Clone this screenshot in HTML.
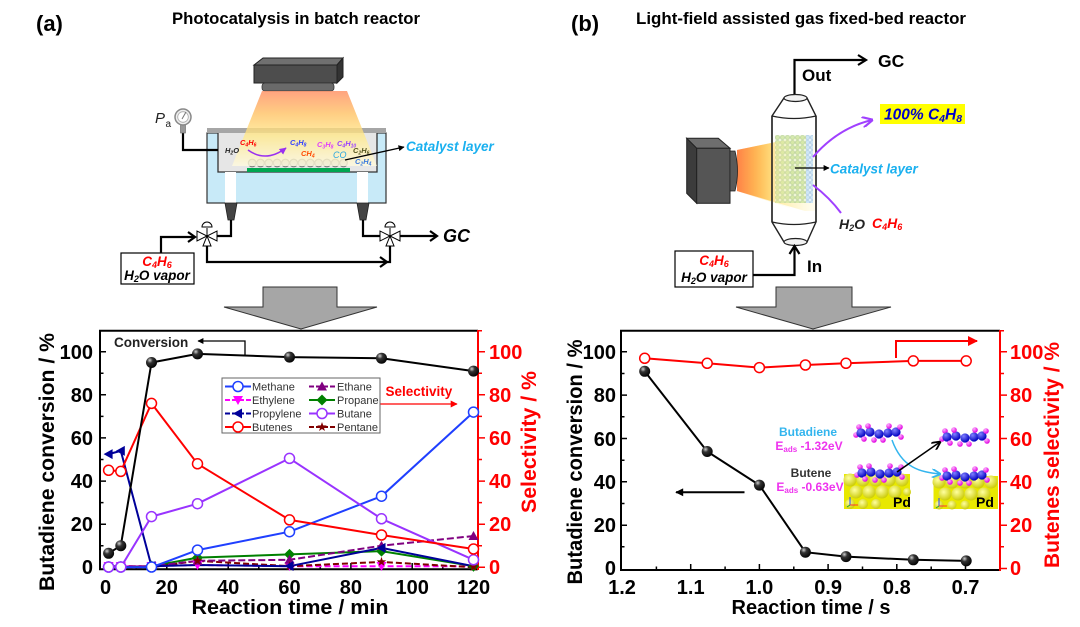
<!DOCTYPE html>
<html><head><meta charset="utf-8"><style>
html,body{margin:0;padding:0;background:#fff;}
svg{display:block;font-family:"Liberation Sans",Arial,sans-serif;}
</style></head><body>
<svg width="1080" height="627" viewBox="0 0 1080 627" xmlns="http://www.w3.org/2000/svg">
<defs>
 <radialGradient id="ball" cx="0.35" cy="0.3" r="0.75"><stop offset="0" stop-color="#d0d0d0"/><stop offset="0.35" stop-color="#333"/><stop offset="1" stop-color="#000"/></radialGradient>
 <radialGradient id="pdb" cx="0.4" cy="0.35" r="0.7"><stop offset="0" stop-color="#ffffa0"/><stop offset="1" stop-color="#c8c800"/></radialGradient>
 <radialGradient id="bb" cx="0.35" cy="0.3" r="0.7"><stop offset="0" stop-color="#8080ff"/><stop offset="1" stop-color="#0000c0"/></radialGradient>
 <radialGradient id="mb" cx="0.35" cy="0.3" r="0.7"><stop offset="0" stop-color="#ffb0ff"/><stop offset="1" stop-color="#e000e0"/></radialGradient>
 <linearGradient id="cone" x1="0" y1="0" x2="0" y2="1"><stop offset="0" stop-color="#ff8a5c"/><stop offset="0.3" stop-color="#ffc060"/><stop offset="0.6" stop-color="#ffe98a"/><stop offset="1" stop-color="#fffbe0"/></linearGradient>
 <linearGradient id="beam" x1="0" y1="0" x2="1" y2="0"><stop offset="0" stop-color="#ff7a3a"/><stop offset="0.3" stop-color="#ffb347"/><stop offset="0.6" stop-color="#ffe680"/><stop offset="1" stop-color="#fff6c0" stop-opacity="0.4"/></linearGradient>
 <pattern id="dots" width="5" height="5" patternUnits="userSpaceOnUse"><rect width="5" height="5" fill="#eef6d8"/><circle cx="2.5" cy="2.5" r="2" fill="#cfe6a0" stroke="#9fc080" stroke-width="0.6"/></pattern>
 <pattern id="dotsb" width="5" height="5" patternUnits="userSpaceOnUse"><rect width="5" height="5" fill="#e6f2fa"/><circle cx="2.5" cy="2.5" r="2" fill="#cfe6f6" stroke="#9cc0dc" stroke-width="0.6"/></pattern>
 <marker id="ahk" viewBox="0 0 10 10" refX="9" refY="5" markerWidth="9" markerHeight="8" markerUnits="userSpaceOnUse" orient="auto"><path d="M0,0 L10,5 L0,10 z" fill="#000"/></marker>
 <marker id="ahs" viewBox="0 0 10 10" refX="9" refY="5" markerWidth="7" markerHeight="6" markerUnits="userSpaceOnUse" orient="auto"><path d="M0,0 L10,5 L0,10 z" fill="#000"/></marker>
 <marker id="ahr" viewBox="0 0 10 10" refX="9" refY="5" markerWidth="14" markerHeight="10" markerUnits="userSpaceOnUse" orient="auto"><path d="M0,0 L10,5 L0,10 z" fill="#f00"/></marker>
 <marker id="ahr2" viewBox="0 0 10 10" refX="9" refY="5" markerWidth="10" markerHeight="7" markerUnits="userSpaceOnUse" orient="auto"><path d="M0,0 L10,5 L0,10 z" fill="#f00"/></marker>
 <marker id="ahp" viewBox="0 0 10 10" refX="9" refY="5" markerWidth="11" markerHeight="11" markerUnits="userSpaceOnUse" orient="auto"><path d="M0,0 L10,5 L0,10" fill="none" stroke="#a040ff" stroke-width="2"/></marker>
 <marker id="ahps" viewBox="0 0 10 10" refX="9" refY="5" markerWidth="7" markerHeight="7" markerUnits="userSpaceOnUse" orient="auto"><path d="M0,0 L10,5 L0,10 z" fill="#9a30f0"/></marker>
 <marker id="ahc" viewBox="0 0 10 10" refX="9" refY="5" markerWidth="9" markerHeight="9" markerUnits="userSpaceOnUse" orient="auto"><path d="M0,0 L10,5 L0,10" fill="none" stroke="#33b5ee" stroke-width="2"/></marker>
 <marker id="ahb" viewBox="0 0 10 10" refX="9" refY="5" markerWidth="9" markerHeight="9" markerUnits="userSpaceOnUse" orient="auto"><path d="M0,0 L10,5 L0,10" fill="none" stroke="#000" stroke-width="2"/></marker>
 <circle id="oc" r="5" fill="#fff"/>
 <circle id="bk" r="5.5" fill="url(#ball)"/>
 <path id="tu" d="M0,-5 L5,4 L-5,4 Z"/>
 <path id="td" d="M0,5 L5,-4 L-5,-4 Z"/>
 <path id="tl" d="M-5,0 L4,-5 L4,5 Z"/>
 <path id="dm" d="M0,-5.5 L5.5,0 L0,5.5 L-5.5,0 Z"/>
 <path id="st" d="M0,-5 L1.18,-1.62 L4.76,-1.55 L1.9,0.62 L2.94,4.05 L0,2 L-2.94,4.05 L-1.9,0.62 L-4.76,-1.55 L-1.18,-1.62 Z"/>
 <g id="valve" fill="#fff" stroke="#000" stroke-width="1">
  <path d="M-10,-5 L-10,5 L0,0 Z"/><path d="M10,-5 L10,5 L0,0 Z"/><path d="M-4,10 L4,10 L0,0 Z"/>
  <path d="M0,0 V-8" fill="none"/><path d="M-5,-9 A5,5 0 0 1 5,-9 Z"/>
 </g>
 <g id="mol">
  <circle cx="0" cy="2" r="2.8" fill="url(#mb)"/><circle cx="3" cy="-6" r="2.8" fill="url(#mb)"/>
  <circle cx="5" cy="0" r="4.6" fill="url(#bb)"/><circle cx="14" cy="-1" r="4.6" fill="url(#bb)"/>
  <circle cx="12" cy="-7" r="2.8" fill="url(#mb)"/>
  <circle cx="23" cy="1" r="4.6" fill="url(#bb)"/><circle cx="32" cy="0" r="4.6" fill="url(#bb)"/>
  <circle cx="40" cy="-1" r="4.6" fill="url(#bb)"/>
  <circle cx="18" cy="7" r="2.8" fill="url(#mb)"/><circle cx="27" cy="7" r="2.8" fill="url(#mb)"/>
  <circle cx="33" cy="-7" r="2.8" fill="url(#mb)"/><circle cx="44" cy="-6" r="2.8" fill="url(#mb)"/>
  <circle cx="45" cy="4" r="2.8" fill="url(#mb)"/><circle cx="8" cy="6" r="2.8" fill="url(#mb)"/>
 </g>
</defs>

<!-- ===== Titles ===== -->
<text x="36" y="31" font-size="22" font-weight="bold">(a)</text>
<text x="296" y="24" font-size="17" font-weight="bold" text-anchor="middle" textLength="248" lengthAdjust="spacingAndGlyphs">Photocatalysis in batch reactor</text>
<text x="571" y="31" font-size="22" font-weight="bold">(b)</text>
<text x="801" y="24" font-size="17" font-weight="bold" text-anchor="middle" textLength="330" lengthAdjust="spacingAndGlyphs">Light-field assisted gas fixed-bed reactor</text>

<!-- ===== Batch reactor ===== -->
<polygon points="254,65 263,58 343,58 337,65" fill="#707070" stroke="#222" stroke-width="1"/>
<rect x="254" y="65" width="83" height="18" fill="#4d4d4d" stroke="#222" stroke-width="1"/>
<polygon points="337,65 343,58 343,77 337,83" fill="#333" stroke="#222" stroke-width="1"/>
<rect x="262" y="83" width="72" height="8" rx="3" fill="#6a6a6a" stroke="#333" stroke-width="0.8"/>
<rect x="207" y="133" width="179" height="70" fill="#c8eaf8" stroke="#333" stroke-width="1.2"/>
<rect x="218" y="133" width="159" height="39" fill="#e6e6e6"/>
<path d="M218,133 V172 H377 V133" fill="none" stroke="#333" stroke-width="1.3"/>
<rect x="225" y="172" width="11" height="31" fill="#fff"/>
<rect x="357" y="172" width="11" height="31" fill="#fff"/>
<rect x="207" y="128" width="179" height="5" fill="#a6a6a6"/>
<rect x="247" y="168" width="103" height="4" fill="#00a650"/>
<g fill="#c6c6c6" stroke="#808080" stroke-width="1.2">
 <circle cx="252.2" cy="163" r="3.8"/><circle cx="260.5" cy="163" r="3.8"/><circle cx="268.8" cy="163" r="3.8"/><circle cx="277.1" cy="163" r="3.8"/><circle cx="285.4" cy="163" r="3.8"/><circle cx="293.7" cy="163" r="3.8"/><circle cx="302" cy="163" r="3.8"/><circle cx="310.3" cy="163" r="3.8"/><circle cx="318.6" cy="163" r="3.8"/><circle cx="326.9" cy="163" r="3.8"/><circle cx="335.2" cy="163" r="3.8"/><circle cx="343.5" cy="163" r="3.8"/>
</g>
<polygon points="262,91 347,91 377,166 232,166" fill="url(#cone)" opacity="0.78"/>
<g font-size="7.5" font-weight="bold" font-style="italic">
 <text x="225" y="153" fill="#222">H<tspan font-size="5" dy="1.5">2</tspan><tspan dy="-1.5">O</tspan></text>
 <text x="240" y="145" fill="#f00">C<tspan font-size="5" dy="1.5">4</tspan><tspan dy="-1.5">H</tspan><tspan font-size="5" dy="1.5">6</tspan></text>
 <text x="290" y="145" fill="#3340ff">C<tspan font-size="5" dy="1.5">4</tspan><tspan dy="-1.5">H</tspan><tspan font-size="5" dy="1.5">8</tspan></text>
 <text x="301" y="156" fill="#ff4a00">CH<tspan font-size="5" dy="1.5">4</tspan></text>
 <text x="317" y="147" fill="#e040fb">C<tspan font-size="5" dy="1.5">3</tspan><tspan dy="-1.5">H</tspan><tspan font-size="5" dy="1.5">8</tspan></text>
 <text x="337" y="146" fill="#9a40ff">C<tspan font-size="5" dy="1.5">4</tspan><tspan dy="-1.5">H</tspan><tspan font-size="5" dy="1.5">10</tspan></text>
 <text x="333" y="158" fill="#2aa7e0" font-size="9" font-weight="normal">CO</text>
 <text x="353" y="153" fill="#555520">C<tspan font-size="5" dy="1.5">2</tspan><tspan dy="-1.5">H</tspan><tspan font-size="5" dy="1.5">6</tspan></text>
 <text x="355" y="164" fill="#3a7adf">C<tspan font-size="5" dy="1.5">2</tspan><tspan dy="-1.5">H</tspan><tspan font-size="5" dy="1.5">4</tspan></text>
</g>
<path d="M248,150 Q266,163 286,148" fill="none" stroke="#9a30f0" stroke-width="1.5" marker-end="url(#ahps)"/>
<path d="M345,160 L404,147" stroke="#000" stroke-width="1.3" marker-end="url(#ahs)"/>
<text x="406" y="151" font-size="13.5" font-weight="bold" font-style="italic" fill="#1ab0ef">Catalyst layer</text>
<path d="M183,133 V150 H218" fill="none" stroke="#000" stroke-width="2.2"/>
<rect x="180.5" y="124" width="5" height="9" fill="#999" stroke="#666" stroke-width="0.6"/>
<circle cx="183" cy="117" r="8" fill="#eee" stroke="#888" stroke-width="1.5"/>
<circle cx="183" cy="117" r="5.3" fill="#fff" stroke="#aaa" stroke-width="0.8"/>
<path d="M182,119 L186,112" stroke="#777" stroke-width="1"/>
<text x="155" y="123" font-size="15" font-style="italic" fill="#222">P</text>
<text x="165.5" y="127" font-size="10" fill="#222">a</text>
<polygon points="225,203 237,203 234,220 228,220" fill="#444" stroke="#222" stroke-width="0.8"/>
<polygon points="357,203 369,203 366,220 360,220" fill="#444" stroke="#222" stroke-width="0.8"/>
<g fill="none" stroke="#000" stroke-width="2.2">
 <path d="M161,253 V237 H195"/>
 <path d="M188,232 L195,237 L188,242"/>
 <path d="M217,236 H231 V220"/>
 <path d="M207,246 V262 H390 V246"/>
 <path d="M380,257 L387,262 L380,267"/>
 <path d="M363,220 V236 H380"/>
 <path d="M400,236 H437"/>
 <path d="M430,231 L437,236 L430,241"/>
</g>
<use href="#valve" x="207" y="236"/>
<use href="#valve" x="390" y="236"/>
<text x="443" y="242" font-size="18" font-weight="bold" font-style="italic">GC</text>
<rect x="121" y="253" width="73" height="31" fill="#fff" stroke="#000" stroke-width="1.2"/>
<text x="157" y="266" font-size="13.5" font-weight="bold" font-style="italic" fill="#f00" text-anchor="middle">C<tspan font-size="9" dy="2">4</tspan><tspan dy="-2">H</tspan><tspan font-size="9" dy="2">6</tspan></text>
<text x="157" y="280" font-size="13.5" font-weight="bold" font-style="italic" text-anchor="middle">H<tspan font-size="9" dy="2">2</tspan><tspan dy="-2">O vapor</tspan></text>

<!-- ===== Fixed-bed reactor ===== -->
<polygon points="737,150 805,136 815,136 815,211 805,211 737,191" fill="url(#beam)" opacity="0.9"/>
<polygon points="784,98 807,98 816,116 816,222 807,242 784,242 772,222 772,116" fill="#fff" fill-opacity="0.35" stroke="#222" stroke-width="1.4"/>
<rect x="775" y="135" width="31" height="68" fill="url(#dots)" opacity="0.85"/>
<rect x="806" y="135" width="7" height="68" fill="url(#dotsb)"/>
<polygon points="737,150 790,139 790,208 737,191" fill="url(#beam)" opacity="0.35"/>
<path d="M772,116 Q794,121 816,116 M772,222 Q794,227 816,222" fill="none" stroke="#222" stroke-width="1.2"/>
<path d="M772,116 V222 M816,116 V222" stroke="#222" stroke-width="1.4"/>
<ellipse cx="795.5" cy="98" rx="11.5" ry="3.5" fill="#f2f2f2" stroke="#222" stroke-width="1.2"/>
<ellipse cx="795.5" cy="242" rx="11.5" ry="3.5" fill="#f2f2f2" stroke="#222" stroke-width="1.2"/>
<polygon points="686.7,138.3 718.3,138.3 730,148.3 696.7,148.3" fill="#6e6e6e" stroke="#222" stroke-width="1"/>
<polygon points="686.7,138.3 696.7,148.3 696.7,203.3 686.7,193.3" fill="#3c3c3c" stroke="#222" stroke-width="1"/>
<rect x="696.7" y="148.3" width="33.3" height="55" fill="#555" stroke="#222" stroke-width="1"/>
<path d="M730,151 H735 Q740,171 735,191 H730 Z" fill="#5a5a5a" stroke="#222" stroke-width="0.8"/>
<g fill="none" stroke="#000" stroke-width="2.2">
 <path d="M794.5,94 V60 H866"/>
 <path d="M858,55 L866,60 L858,65"/>
 <path d="M753,275 H794.5 V247"/>
 <path d="M789.5,254 L794.5,246 L799.5,254"/>
</g>
<text x="878" y="67" font-size="17.5" font-weight="bold">GC</text>
<text x="802" y="81" font-size="17" font-weight="bold">Out</text>
<text x="807" y="272" font-size="17" font-weight="bold">In</text>
<path d="M813,157 Q838,128 872,120" fill="none" stroke="#a040ff" stroke-width="2" marker-end="url(#ahp)"/>
<path d="M813,185 Q830,198 841,213" fill="none" stroke="#a040ff" stroke-width="2"/>
<rect x="880" y="104" width="85" height="20" fill="#ffff00"/>
<text x="884" y="119.5" font-size="15.5" font-weight="bold" font-style="italic" fill="#0000cc">100% C<tspan font-size="10.5" dy="2.5">4</tspan><tspan dy="-2.5">H</tspan><tspan font-size="10.5" dy="2.5">8</tspan></text>
<path d="M795,168 H829" stroke="#000" stroke-width="1.3" marker-end="url(#ahs)"/>
<text x="830" y="173.5" font-size="13.5" font-weight="bold" font-style="italic" fill="#1ab0ef">Catalyst layer</text>
<text x="839" y="229" font-size="14" font-weight="bold" font-style="italic" fill="#222">H<tspan font-size="9" dy="2">2</tspan><tspan dy="-2">O</tspan></text>
<text x="872" y="228" font-size="14" font-weight="bold" font-style="italic" fill="#f00">C<tspan font-size="9" dy="2">4</tspan><tspan dy="-2">H</tspan><tspan font-size="9" dy="2">6</tspan></text>
<rect x="675" y="251" width="78" height="36" fill="#fff" stroke="#000" stroke-width="1.2"/>
<text x="714" y="265" font-size="13.5" font-weight="bold" font-style="italic" fill="#f00" text-anchor="middle">C<tspan font-size="9" dy="2">4</tspan><tspan dy="-2">H</tspan><tspan font-size="9" dy="2">6</tspan></text>
<text x="714" y="282" font-size="13.5" font-weight="bold" font-style="italic" text-anchor="middle">H<tspan font-size="9" dy="2">2</tspan><tspan dy="-2">O vapor</tspan></text>

<!-- ===== Gray arrows ===== -->
<polygon points="263,287 337,287 337,307 377,307 301,329 224,307 263,307" fill="#a6a6a6" stroke="#333" stroke-width="1"/>
<polygon points="776,287 852,287 852,307 891,307 813,329 736,307 776,307" fill="#a6a6a6" stroke="#333" stroke-width="1"/>

<!-- ===== Left chart ===== -->
<g stroke="#000" stroke-width="1.5">
 <path d="M100,351.7 h6 M100,394.8 h6 M100,437.9 h6 M100,481.1 h6 M100,524.2 h6 M100,373.3 h3.5 M100,416.4 h3.5 M100,459.5 h3.5 M100,502.6 h3.5 M100,545.7 h3.5"/>
 <path d="M105.5,569 v-6 M166.8,569 v-6 M228.2,569 v-6 M289.5,569 v-6 M350.9,569 v-6 M412.2,569 v-6 M473.5,569 v-6 M136.2,569 v-3.5 M197.5,569 v-3.5 M258.8,569 v-3.5 M320.2,569 v-3.5 M381.5,569 v-3.5 M442.8,569 v-3.5"/>
</g>
<g stroke="#f00" stroke-width="1.5">
 <path d="M478,351.7 h7 M478,394.8 h7 M478,437.9 h7 M478,481.1 h7 M478,524.2 h7 M478,567.3 h7 M478,373.3 h4 M478,416.4 h4 M478,459.5 h4 M478,502.6 h4 M478,545.7 h4 M478,330.7 h4"/>
</g>
<path d="M478,330.7 H100 V569.3 H478" fill="none" stroke="#000" stroke-width="2"/>
<path d="M478,330 V570" stroke="#f00" stroke-width="2"/>
<g font-size="20" font-weight="bold" text-anchor="end">
 <text x="93" y="359">100</text><text x="93" y="402">80</text><text x="93" y="445">60</text><text x="93" y="488">40</text><text x="93" y="531">20</text><text x="93" y="574">0</text>
</g>
<g font-size="20" font-weight="bold" fill="#f00">
 <text x="489" y="359">100</text><text x="489" y="402">80</text><text x="489" y="445">60</text><text x="489" y="488">40</text><text x="489" y="531">20</text><text x="489" y="574">0</text>
</g>
<g font-size="20" font-weight="bold" text-anchor="middle">
 <text x="105.5" y="594">0</text><text x="166.8" y="594">20</text><text x="228.2" y="594">40</text><text x="289.5" y="594">60</text><text x="350.9" y="594">80</text><text x="412.2" y="594">100</text><text x="473.5" y="594">120</text>
</g>
<text x="290" y="614" font-size="20" font-weight="bold" text-anchor="middle" textLength="197" lengthAdjust="spacingAndGlyphs">Reaction time / min</text>
<text transform="translate(54,462) rotate(-90)" font-size="21" font-weight="bold" text-anchor="middle" textLength="258" lengthAdjust="spacingAndGlyphs">Butadiene conversion / %</text>
<text transform="translate(536,442) rotate(-90)" font-size="21" font-weight="bold" fill="#f00" text-anchor="middle" textLength="142" lengthAdjust="spacingAndGlyphs">Selectivity / %</text>

<g fill="none" stroke-width="2" stroke-linejoin="round">
 <polyline stroke="#ff00ff" stroke-dasharray="6,3" points="108.6,566.2 120.8,566.2 151.5,566.2 197.5,565 289.5,566.2 381.5,566.2 473.5,566.2"/>
 <polyline stroke="#800000" stroke-dasharray="6,3" points="108.6,567.3 120.8,567.3 151.5,567.3 197.5,560.8 289.5,566.2 381.5,561.9 473.5,567.3"/>
 <polyline stroke="#008000" points="108.6,567.3 120.8,567.3 151.5,566.2 197.5,557.6 289.5,554.4 381.5,551.1 473.5,566.2"/>
 <polyline stroke="#800080" stroke-dasharray="7,3" points="108.6,566.2 120.8,566.2 151.5,566.2 197.5,560.8 289.5,559.8 381.5,545.7 473.5,536"/>
 <polyline stroke="#000099" points="108.6,454.1 120.8,450.9 151.5,566.2 197.5,565 289.5,566.2 381.5,547.9 473.5,566.2"/>
 <polyline stroke="#1f3fff" points="108.6,567.3 120.8,567.3 151.5,567.3 197.5,550.1 289.5,531.7 381.5,496.2 473.5,412.1"/>
 <polyline stroke="#9933ff" points="108.6,567.3 120.8,567.3 151.5,516.6 197.5,503.7 289.5,458.4 381.5,518.8 473.5,559.8"/>
 <polyline stroke="#ff0000" points="108.6,470.3 120.8,471.4 151.5,403.4 197.5,463.8 289.5,519.9 381.5,535 473.5,549"/>
 <polyline stroke="#000" points="108.6,553.3 120.8,545.7 151.5,362.5 197.5,353.9 289.5,357.1 381.5,358.2 473.5,371.1"/>
</g>
<g fill="#ff00ff"><use href="#td" x="108.6" y="566"/><use href="#td" x="120.8" y="566"/><use href="#td" x="151.5" y="566"/><use href="#td" x="197.5" y="565"/><use href="#td" x="289.5" y="566"/><use href="#td" x="381.5" y="566"/><use href="#td" x="473.5" y="566"/></g>
<g fill="#008000"><use href="#dm" x="108.6" y="567"/><use href="#dm" x="120.8" y="567"/><use href="#dm" x="151.5" y="566"/><use href="#dm" x="197.5" y="557.6"/><use href="#dm" x="289.5" y="554.4"/><use href="#dm" x="381.5" y="551.1"/><use href="#dm" x="473.5" y="566.2"/></g>
<g fill="#800080"><use href="#tu" x="108.6" y="566"/><use href="#tu" x="120.8" y="566"/><use href="#tu" x="151.5" y="566"/><use href="#tu" x="197.5" y="560.8"/><use href="#tu" x="289.5" y="559.8"/><use href="#tu" x="381.5" y="545.7"/><use href="#tu" x="473.5" y="536"/></g>
<g fill="#800000"><use href="#st" x="197.5" y="560.8"/><use href="#st" x="289.5" y="566.2"/><use href="#st" x="381.5" y="561.9"/><use href="#st" x="473.5" y="567"/><use href="#st" x="151.5" y="567"/></g>
<g fill="#000099"><use href="#tl" x="108.6" y="454.1"/><use href="#tl" x="120.8" y="450.9"/><use href="#tl" x="151.5" y="566"/><use href="#tl" x="289.5" y="566"/><use href="#tl" x="381.5" y="547.9"/></g>
<g stroke="#1f3fff" stroke-width="1.5"><use href="#oc" x="108.6" y="567"/><use href="#oc" x="120.8" y="567"/><use href="#oc" x="151.5" y="567"/><use href="#oc" x="197.5" y="550.1"/><use href="#oc" x="289.5" y="531.7"/><use href="#oc" x="381.5" y="496.2"/><use href="#oc" x="473.5" y="412.1"/></g>
<g stroke="#9933ff" stroke-width="1.5"><use href="#oc" x="108.6" y="567"/><use href="#oc" x="120.8" y="567"/><use href="#oc" x="151.5" y="516.6"/><use href="#oc" x="197.5" y="503.7"/><use href="#oc" x="289.5" y="458.4"/><use href="#oc" x="381.5" y="518.8"/><use href="#oc" x="473.5" y="559.8"/></g>
<g stroke="#ff0000" stroke-width="1.5"><use href="#oc" x="108.6" y="470.3"/><use href="#oc" x="120.8" y="471.4"/><use href="#oc" x="151.5" y="403.4"/><use href="#oc" x="197.5" y="463.8"/><use href="#oc" x="289.5" y="519.9"/><use href="#oc" x="381.5" y="535"/><use href="#oc" x="473.5" y="549"/></g>
<g><use href="#bk" x="108.6" y="553.3"/><use href="#bk" x="120.8" y="545.7"/><use href="#bk" x="151.5" y="362.5"/><use href="#bk" x="197.5" y="353.9"/><use href="#bk" x="289.5" y="357.1"/><use href="#bk" x="381.5" y="358.2"/><use href="#bk" x="473.5" y="371.1"/></g>
<text x="114" y="347" font-size="13.5" font-weight="bold" fill="#222">Conversion</text>
<path d="M245,355 V341 H198" fill="none" stroke="#000" stroke-width="1.3" marker-end="url(#ahs)"/>
<text x="385.5" y="396" font-size="13.5" font-weight="bold" fill="#f00">Selectivity</text>
<path d="M380,404 H457" stroke="#f00" stroke-width="1.3" marker-end="url(#ahr2)"/>
<rect x="222" y="378" width="158" height="55" fill="#fff" stroke="#666" stroke-width="1"/>
<g stroke-width="2" fill="none">
 <path d="M225,386.5 H251" stroke="#1f3fff"/>
 <path d="M225,400 H251" stroke="#ff00ff" stroke-dasharray="5,2"/>
 <path d="M225,413.5 H251" stroke="#000099" stroke-dasharray="5,2"/>
 <path d="M225,427 H251" stroke="#ff0000"/>
 <path d="M309,386.5 H335" stroke="#800080" stroke-dasharray="5,2"/>
 <path d="M309,400 H335" stroke="#008000"/>
 <path d="M309,413.5 H335" stroke="#9933ff"/>
 <path d="M309,427 H335" stroke="#800000" stroke-dasharray="5,2"/>
</g>
<use href="#oc" x="238" y="386.5" stroke="#1f3fff" stroke-width="1.5"/>
<use href="#td" x="238" y="400" fill="#ff00ff"/>
<use href="#tl" x="238" y="413.5" fill="#000099"/>
<use href="#oc" x="238" y="427" stroke="#ff0000" stroke-width="1.5"/>
<use href="#tu" x="322" y="386.5" fill="#800080"/>
<use href="#dm" x="322" y="400" fill="#008000"/>
<use href="#oc" x="322" y="413.5" stroke="#9933ff" stroke-width="1.5"/>
<use href="#st" x="322" y="427" fill="#800000"/>
<g font-size="11" fill="#333">
 <text x="252" y="390.5">Methane</text><text x="252" y="404">Ethylene</text><text x="252" y="417.5">Propylene</text><text x="252" y="431">Butenes</text>
 <text x="337" y="390.5">Ethane</text><text x="337" y="404">Propane</text><text x="337" y="417.5">Butane</text><text x="337" y="431">Pentane</text>
</g>

<!-- ===== Right chart ===== -->
<g stroke="#000" stroke-width="1.5">
 <path d="M621,351.8 h6 M621,395.1 h6 M621,438.5 h6 M621,481.8 h6 M621,525.2 h6 M621,373.5 h3.5 M621,416.8 h3.5 M621,460.2 h3.5 M621,503.5 h3.5 M621,546.8 h3.5"/>
 <path d="M690.7,570 v-6 M759.4,570 v-6 M828.1,570 v-6 M896.8,570 v-6 M965.5,570 v-6 M656.4,570 v-3.5 M725.1,570 v-3.5 M793.8,570 v-3.5 M862.5,570 v-3.5 M931.2,570 v-3.5"/>
</g>
<g stroke="#f00" stroke-width="1.5">
 <path d="M1000,351.8 h7 M1000,395.1 h7 M1000,438.5 h7 M1000,481.8 h7 M1000,525.2 h7 M1000,568.5 h7 M1000,373.5 h4 M1000,416.8 h4 M1000,460.2 h4 M1000,503.5 h4 M1000,546.8 h4 M1000,330.7 h4"/>
</g>
<path d="M1000,330.7 H621 V570 H1000" fill="none" stroke="#000" stroke-width="2"/>
<path d="M1000,330 V571" stroke="#f00" stroke-width="2"/>
<g font-size="20" font-weight="bold" text-anchor="end">
 <text x="616" y="359">100</text><text x="616" y="402">80</text><text x="616" y="446">60</text><text x="616" y="489">40</text><text x="616" y="532">20</text><text x="616" y="575">0</text>
</g>
<g font-size="20" font-weight="bold" fill="#f00">
 <text x="1010" y="359">100</text><text x="1010" y="402">80</text><text x="1010" y="446">60</text><text x="1010" y="489">40</text><text x="1010" y="532">20</text><text x="1010" y="575">0</text>
</g>
<g font-size="20" font-weight="bold" text-anchor="middle">
 <text x="622" y="594">1.2</text><text x="690.7" y="594">1.1</text><text x="759.4" y="594">1.0</text><text x="828.1" y="594">0.9</text><text x="896.8" y="594">0.8</text><text x="965.5" y="594">0.7</text>
</g>
<text x="811" y="614" font-size="20" font-weight="bold" text-anchor="middle">Reaction time / s</text>
<text transform="translate(582,462) rotate(-90)" font-size="21" font-weight="bold" text-anchor="middle" textLength="245" lengthAdjust="spacingAndGlyphs">Butadiene conversion / %</text>
<text transform="translate(1059,455) rotate(-90)" font-size="21" font-weight="bold" fill="#f00" text-anchor="middle" textLength="226" lengthAdjust="spacingAndGlyphs">Butenes selectivity / %</text>

<polyline fill="none" stroke="#f00" stroke-width="2" points="644.7,358.3 707.2,363.3 759.4,367.6 805.4,365 846,363.3 913.3,360.9 966.2,360.9"/>
<polyline fill="none" stroke="#000" stroke-width="2" points="644.7,371.3 707.2,451.5 759.4,485.1 805.4,552.2 846,556.6 913.3,559.8 966.2,560.9"/>
<g stroke="#f00" stroke-width="1.5"><use href="#oc" x="644.7" y="358.3"/><use href="#oc" x="707.2" y="363.3"/><use href="#oc" x="759.4" y="367.6"/><use href="#oc" x="805.4" y="365"/><use href="#oc" x="846" y="363.3"/><use href="#oc" x="913.3" y="360.9"/><use href="#oc" x="966.2" y="360.9"/></g>
<g><use href="#bk" x="644.7" y="371.3"/><use href="#bk" x="707.2" y="451.5"/><use href="#bk" x="759.4" y="485.1"/><use href="#bk" x="805.4" y="552.2"/><use href="#bk" x="846" y="556.6"/><use href="#bk" x="913.3" y="559.8"/><use href="#bk" x="966.2" y="560.9"/></g>
<path d="M896,358 V341 H977" fill="none" stroke="#f00" stroke-width="2" marker-end="url(#ahr)"/>
<path d="M744.5,492.3 H676" stroke="#000" stroke-width="2" marker-end="url(#ahk)"/>

<g font-size="12" font-weight="bold" text-anchor="middle">
 <text x="808" y="436" fill="#33b5ee">Butadiene</text>
 <text x="809" y="450" fill="#ee33ee">E<tspan font-size="8" dy="2">ads</tspan><tspan dy="-2"> -1.32eV</tspan></text>
 <text x="811" y="477" fill="#333">Butene</text>
 <text x="810" y="491" fill="#ee33ee">E<tspan font-size="8" dy="2">ads</tspan><tspan dy="-2"> -0.63eV</tspan></text>
</g>
<rect x="844" y="474" width="66" height="35" fill="#e8e800"/>
<g fill="url(#pdb)">
 <circle cx="850" cy="480" r="6.5"/><circle cx="863" cy="480" r="6.5"/><circle cx="876" cy="480" r="6.5"/><circle cx="889" cy="480" r="6.5"/><circle cx="902" cy="480" r="6.5"/>
 <circle cx="856" cy="492" r="6.5"/><circle cx="869" cy="492" r="6.5"/><circle cx="882" cy="492" r="6.5"/><circle cx="895" cy="492" r="6.5"/><circle cx="907" cy="492" r="4"/>
 <circle cx="850" cy="504" r="5"/><circle cx="863" cy="504" r="5"/><circle cx="876" cy="504" r="5"/>
</g>
<rect x="933.5" y="476" width="64.5" height="33" fill="#e8e800"/>
<g fill="url(#pdb)">
 <circle cx="939" cy="482" r="6.5"/><circle cx="952" cy="482" r="6.5"/><circle cx="965" cy="482" r="6.5"/><circle cx="978" cy="482" r="6.5"/><circle cx="991" cy="482" r="6.5"/>
 <circle cx="945" cy="494" r="6.5"/><circle cx="958" cy="494" r="6.5"/><circle cx="971" cy="494" r="6.5"/><circle cx="984" cy="494" r="6.5"/>
 <circle cx="939" cy="505" r="4.5"/><circle cx="952" cy="505" r="4.5"/><circle cx="965" cy="505" r="4.5"/>
</g>
<g stroke-width="1"><path d="M850,505 V497" stroke="#2244ff"/><path d="M850,505 H858" stroke="#ff3333"/><path d="M850,505 L847,507" stroke="#22aa22"/>
<path d="M939,506 V498" stroke="#2244ff"/><path d="M939,506 H947" stroke="#ff3333"/><path d="M939,506 L936,508" stroke="#22aa22"/></g>
<text x="893" y="507" font-size="14" font-weight="bold">Pd</text>
<text x="976" y="507" font-size="14" font-weight="bold">Pd</text>
<use href="#mol" x="856" y="433"/>
<use href="#mol" x="942" y="437"/>
<use href="#mol" x="857" y="473"/>
<use href="#mol" x="942" y="476"/>
<path d="M892,440 C902,468 920,472 940,474" fill="none" stroke="#33b5ee" stroke-width="1.5" marker-end="url(#ahc)"/>
<path d="M897,472 L940,442" fill="none" stroke="#000" stroke-width="1.5" marker-end="url(#ahb)"/>
</svg>
</body></html>
